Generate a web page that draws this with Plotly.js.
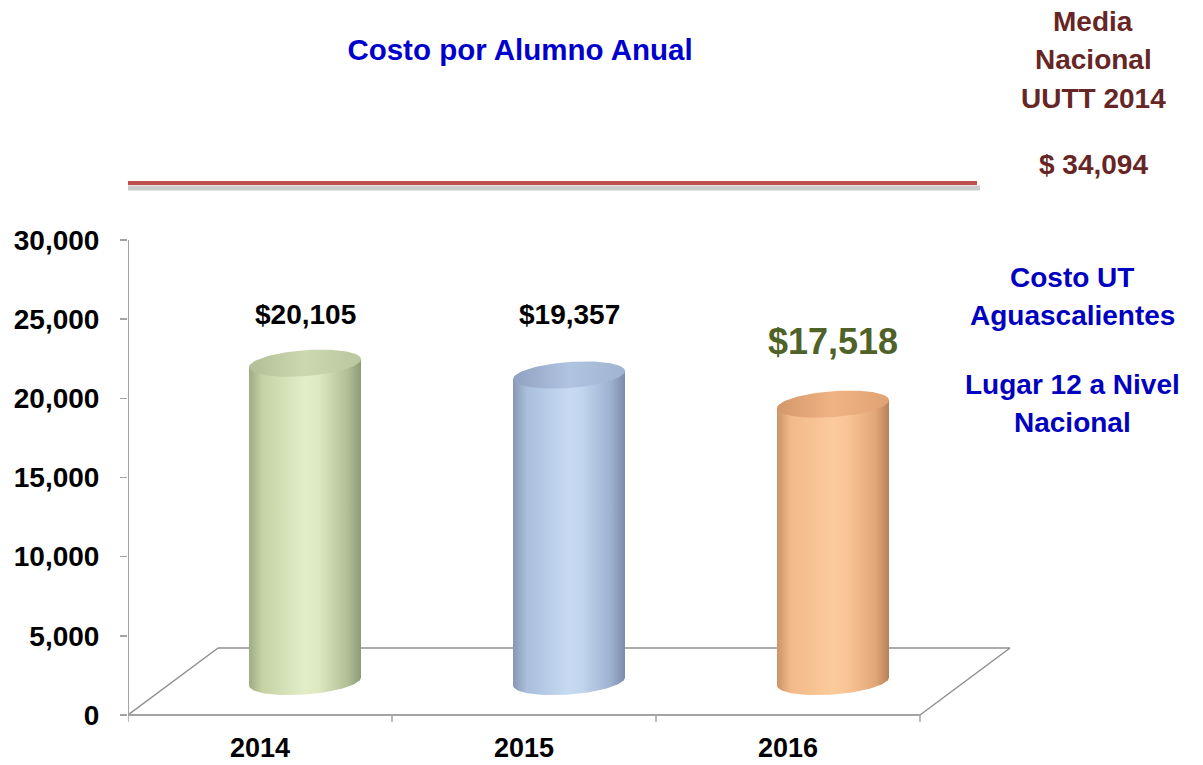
<!DOCTYPE html>
<html>
<head>
<meta charset="utf-8">
<script src="https://cdn.plot.ly/plotly-3.0.1.min.js"></script>
<style>html,body{margin:0;padding:0;background:#fff}#chart{width:1203px;height:765px}</style>
</head>
<body>
<div id="chart"></div>
<script>
// ---- data ----
const years = ['2014', '2015', '2016'];
const costs = [20105, 19357, 17518];
const costLabels = ['$20,105', '$19,357', '$17,518'];
const yTicks = [0, 5000, 10000, 15000, 20000, 25000, 30000];
const yTickText = ['0', '5,000', '10,000', '15,000', '20,000', '25,000', '30,000'];
const mediaNacional = 34094;
const mediaLines = ['Media', 'Nacional', 'UUTT 2014', '$ 34,094'];
const utLines = ['Costo UT', 'Aguascalientes', 'Lugar 12 a Nivel', 'Nacional'];

// ---- styles / geometry ----
const FONT = 'Liberation Sans, Arial, sans-serif';
const W = 1203, H = 765;
const L = 128, R = 177, T = 145, B = 40;
const PW = W - L - R, PH = H - T - B;
const pxPerX = 264;                 // pixels per category
const pxPerY = 475 / 30000;         // pixels per value unit
const xr = [-0.5, -0.5 + PW / pxPerX];
const yr = [-10 / pxPerY, 570 / pxPerY];
const px2x = p => xr[0] + (p - L) / pxPerX;
const py2y = p => (715 - p) / pxPerY;
const px2paper = p => (p - L) / PW;
const py2paper = p => (H - B - p) / PH;
const DX = 90 / pxPerX, DY = 67 / pxPerY;   // 3D depth offset
const RAD = 56 / pxPerX, EB = 13 / pxPerY, EK = 4 / pxPerY;

const bodyScales = [
  [[0,'#9FAB84'],[0.12,'#C4D2A4'],[0.5,'#E3EEC8'],[0.62,'#DDE9C0'],[0.88,'#B2BF95'],[1,'#8E9978']],
  [[0,'#8797B5'],[0.12,'#A9BEDC'],[0.5,'#C7DAF2'],[0.62,'#C2D5EE'],[0.88,'#9CAFCD'],[1,'#7B8BA8']],
  [[0,'#C99467'],[0.12,'#F2B889'],[0.5,'#FCCB9B'],[0.62,'#FAC595'],[0.88,'#E2A677'],[1,'#B68257']]
];
const capScales = [
  [[0,'#B2BE95'],[0.5,'#CCD8B0'],[1,'#BAC69E']],
  [[0,'#8FA1C0'],[0.5,'#B0C3DF'],[1,'#A0B3D0']],
  [[0,'#D4976A'],[0.5,'#F0B383'],[1,'#E0A273']]
];

const traces = [];
costs.forEach((v, i) => {
  const cx = i + DX / 2, c0 = DY / 2, c1 = DY / 2 + v;
  const N = 60;
  // body
  const bx = [], by = [];
  for (let k = 0; k <= N; k++) {
    const t = Math.PI + Math.PI * k / N;
    bx.push(cx + RAD * Math.cos(t));
    by.push(c0 + EB * Math.sin(t) + EK * Math.cos(t));
  }
  bx.push(cx + RAD); by.push(c1 + EK);
  bx.push(cx - RAD); by.push(c1 - EK);
  bx.push(bx[0]); by.push(by[0]);
  traces.push({
    type: 'scatter', mode: 'lines', x: bx, y: by, fill: 'toself',
    fillgradient: {type: 'horizontal', colorscale: bodyScales[i]},
    line: {width: 0}, hoverinfo: 'skip', showlegend: false
  });
  // top cap
  const tx = [], ty = [];
  for (let k = 0; k <= 2 * N; k++) {
    const t = 2 * Math.PI * k / (2 * N);
    tx.push(cx + RAD * Math.cos(t));
    ty.push(c1 + EB * Math.sin(t) + EK * Math.cos(t));
  }
  traces.push({
    type: 'scatter', mode: 'lines', x: tx, y: ty, fill: 'toself',
    fillgradient: {type: 'horizontal', colorscale: capScales[i]},
    line: {width: 0}, hoverinfo: 'skip', showlegend: false
  });
});

const grey = '#A3A3A3';
const shapes = [
  // floor
  {type:'line', xref:'x', yref:'y', x0:-0.5+DX, y0:DY, x1:2.5+DX, y1:DY, line:{color:'#8F8F8F', width:1.5}, layer:'below'},
  {type:'line', xref:'x', yref:'y', x0:-0.5, y0:0, x1:-0.5+DX, y1:DY, line:{color:'#8F8F8F', width:1.5}, layer:'below'},
  {type:'line', xref:'x', yref:'y', x0:2.5, y0:0, x1:2.5+DX, y1:DY, line:{color:'#8F8F8F', width:1.5}, layer:'below'},
  {type:'line', xref:'x', yref:'y', x0:-0.5, y0:0, x1:2.5, y1:0, line:{color:grey, width:2}, layer:'below'},
  // y axis line
  {type:'line', xref:'x', yref:'y', x0:-0.5, y0:0, x1:-0.5, y1:30000, line:{color:grey, width:2}, layer:'below'},
  // media nacional line + shadow
  {type:'line', xref:'x', yref:'y', x0:-0.5, y0:py2y(188), x1:px2x(980), y1:py2y(188), line:{color:'rgba(170,170,170,0.6)', width:5}, layer:'below'},
  {type:'line', xref:'x', yref:'y', x0:-0.5, y0:py2y(183), x1:px2x(977), y1:py2y(183), line:{color:'#C0504D', width:4}, layer:'below'}
];
// x tick marks at category boundaries
[-0.5, 0.5, 1.5, 2.5].forEach(b => {
  shapes.push({type:'line', xref:'x', yref:'y', x0:b, y0:0, x1:b, y1:py2y(722), line:{color:grey, width:1.5}, layer:'below'});
});

const ann = [];
costLabels.forEach((t, i) => {
  const big = i === 2;
  ann.push({
    xref:'x', yref:'y', x: i + DX / 2, y: py2y(big ? 341 : 314), text: t, showarrow:false,
    xanchor:'center', yanchor:'middle',
    font:{family:FONT, size: big ? 36 : 28, color: big ? '#4F6228' : '#000000', weight:'bold'}
  });
});
const mediaY = [20, 58, 97, 163];
mediaLines.forEach((t, k) => ann.push({
  xref:'paper', yref:'paper', x: px2paper(1093), y: py2paper(mediaY[k] + 1), text: t, showarrow:false,
  xanchor:'center', yanchor:'middle',
  font:{family:FONT, size:28, color:'#672626', weight:'bold'}
}));
const utY = [276, 314, 383, 421];
utLines.forEach((t, k) => ann.push({
  xref:'paper', yref:'paper', x: px2paper(1072), y: py2paper(utY[k] + 1), text: t, showarrow:false,
  xanchor:'center', yanchor:'middle',
  font:{family:FONT, size:28, color:'#0000C0', weight:'bold'}
}));

const layout = {
  width: W, height: H,
  margin: {l: L, r: R, t: T, b: B, pad: 0},
  paper_bgcolor: '#ffffff', plot_bgcolor: 'rgba(0,0,0,0)',
  showlegend: false,
  title: {
    text: 'Costo por Alumno Anual', xref: 'container', yref: 'container',
    x: 520 / W, y: 1 - 50 / H, xanchor: 'center', yanchor: 'middle',
    font: {family: FONT, size: 29.5, color: '#0000CC', weight: 'bold'}
  },
  xaxis: {
    range: xr, showgrid: false, zeroline: false, showline: false,
    tickmode: 'array', tickvals: [0, 1, 2], ticktext: years, ticks: '',
    ticklabelstandoff: 4,
    tickfont: {family: FONT, size: 27, color: '#000000', weight: 'bold'},
    fixedrange: true
  },
  yaxis: {
    range: yr, showgrid: false, zeroline: false, showline: false,
    tickmode: 'array', tickvals: yTicks, ticktext: yTickText,
    ticks: 'outside', ticklen: 7, tickwidth: 1.5, tickcolor: grey,
    ticklabelstandoff: 15,
    tickfont: {family: FONT, size: 28, color: '#000000', weight: 'bold'},
    fixedrange: true
  },
  shapes: shapes,
  annotations: ann
};

Plotly.newPlot('chart', traces, layout, {displayModeBar: false, staticPlot: true});
</script>
</body>
</html>
